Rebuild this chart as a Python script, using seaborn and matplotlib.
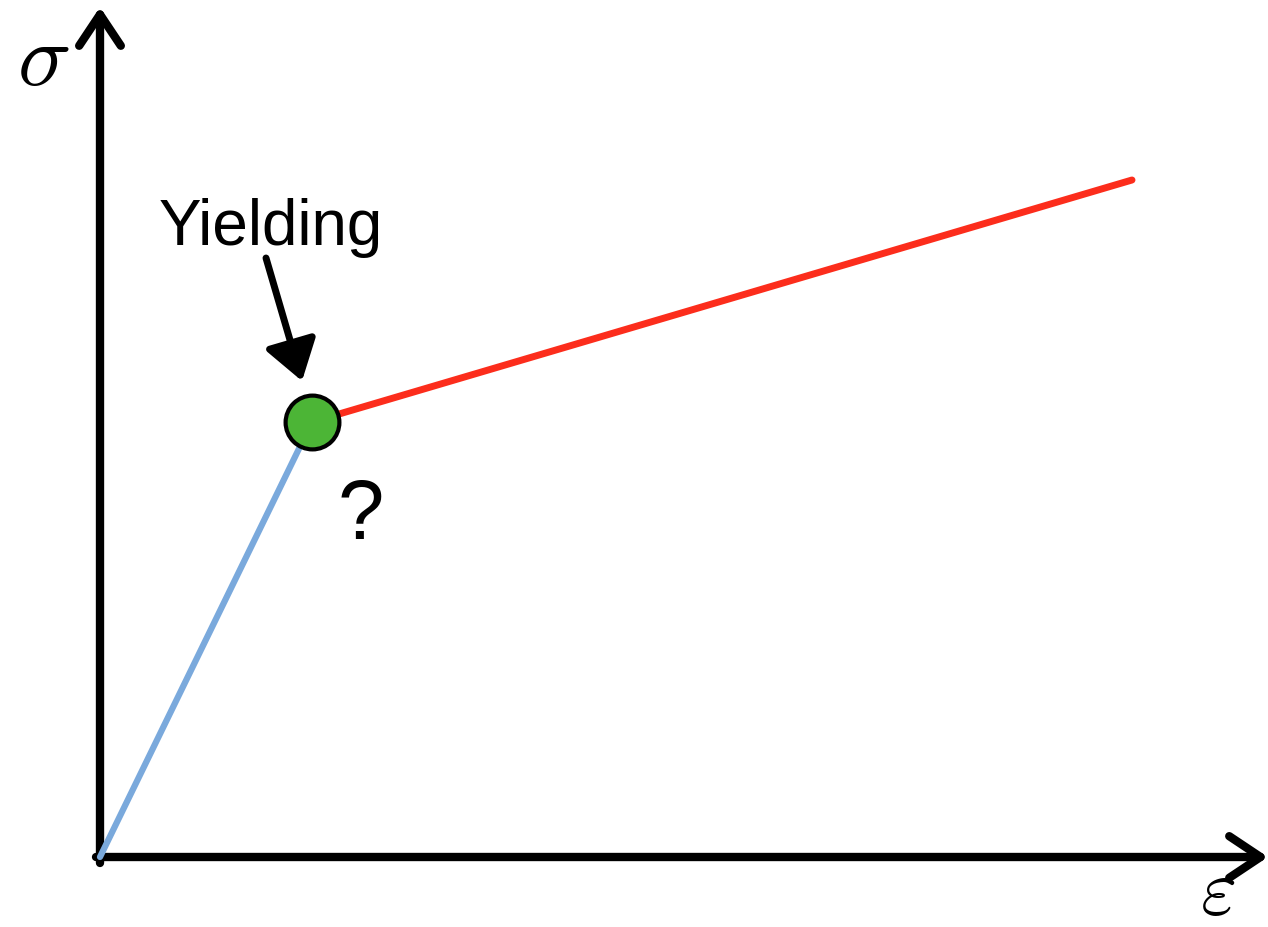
import matplotlib
matplotlib.use("Agg")
import matplotlib.pyplot as plt
import seaborn as sns

# Data (strain, stress) in arbitrary units
elastic_strain = [0, 212]
elastic_stress = [0, 435]
plastic_strain = [212, 1032]
plastic_stress = [435, 677]
yield_strain = [212]
yield_stress = [435]
yield_label = "Yielding"
question_label = "?"
x_label = r"$\varepsilon$"
y_label = r"$\sigma$"

sns.set_theme(style="white")
plt.rcParams['font.family'] = ['Liberation Sans', 'DejaVu Sans']
plt.rcParams['mathtext.fontset'] = 'cm'

fig = plt.figure(figsize=(12.68, 9.27), dpi=100)
ax = fig.add_axes([0, 0, 1, 1])
ax.set_xlim(-100, 1168)
ax.set_ylim(-70, 857)
ax.axis('off')

# axes with arrows
ax.annotate('', xy=(0, 850), xytext=(0, -6),
            arrowprops=dict(arrowstyle='->,head_length=0.45,head_width=0.3', lw=6, color='black',
                            shrinkA=0, shrinkB=0, mutation_scale=50))
ax.annotate('', xy=(1168, 0), xytext=(-4, 0),
            arrowprops=dict(arrowstyle='->,head_length=0.45,head_width=0.3', lw=6, color='black',
                            shrinkA=0, shrinkB=0, mutation_scale=50))

sns.lineplot(x=elastic_strain, y=elastic_stress, ax=ax, color='#7aa9dc', lw=4.5,
             sort=False, estimator=None, zorder=3)
sns.lineplot(x=plastic_strain, y=plastic_stress, ax=ax, color='#fc2d1c', lw=5,
             sort=False, estimator=None, zorder=3)
sns.scatterplot(x=yield_strain, y=yield_stress, ax=ax, s=1500, color='#4cb536',
                edgecolor='black', linewidth=3, zorder=5)

ax.annotate('', xy=(202, 476), xytext=(166, 599),
            arrowprops=dict(arrowstyle='-|>,head_length=0.6,head_width=0.4', lw=5, color='black',
                            shrinkA=0, shrinkB=0, mutation_scale=40))
ax.text(171, 629, yield_label, fontsize=46, ha='center', va='center', color='black')
ax.text(261, 340, question_label, fontsize=60, ha='center', va='center', color='black')
ax.text(-57, 795, y_label, fontsize=64, ha='center', va='center', color='black')
ax.text(1118, -36, x_label, fontsize=56, ha='center', va='center', color='black')

fig.savefig('out.png', dpi=100)
